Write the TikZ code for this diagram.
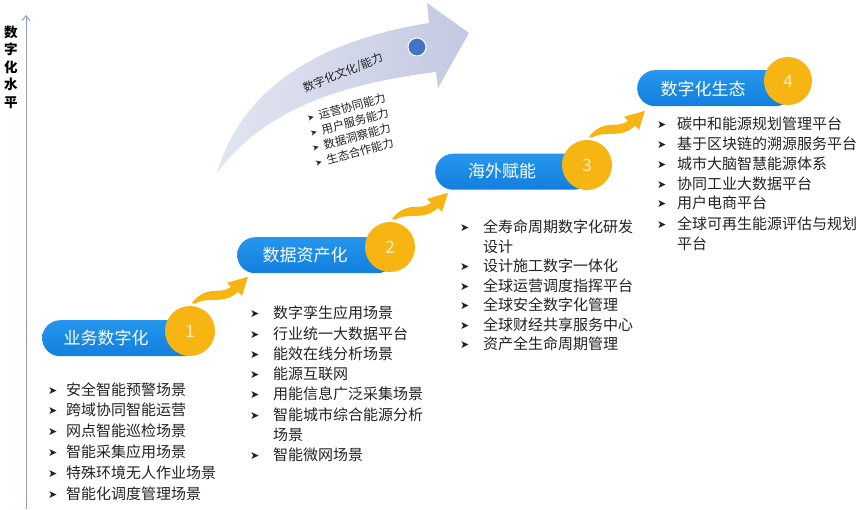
\documentclass[tikz,border=0pt]{standalone}
\usepackage{fontspec}
\setmainfont{Noto Sans CJK SC}
\newfontfamily\dejavu{DejaVu Sans}
\usetikzlibrary{arrows.meta}
\definecolor{pilltop}{HTML}{2696EE}
\definecolor{pillbot}{HTML}{127FDC}
\definecolor{gold}{HTML}{F7B514}
\definecolor{numcol}{HTML}{FFF0C4}
\definecolor{bigA}{HTML}{E2E5F1}
\definecolor{bigB}{HTML}{C3C9E2}
\definecolor{dotblue}{HTML}{4472C4}
\definecolor{axiscol}{HTML}{8D9CC8}
\definecolor{txt}{HTML}{222222}
\newlength\boff
\newcommand\bul{\makebox[\boff][l]{\raisebox{1.0pt}{\dejavu\fontsize{11}{11}\selectfont ➤}}}
\newcommand\smallbul{\makebox[12pt][l]{\raisebox{0.7pt}{\dejavu\fontsize{8.5}{9}\selectfont ➤}}}
\newcommand\nobul{\hspace*{\boff}}
\newcommand\mylist[6]{%
  \setlength\boff{#3pt}%
  \foreach \t [count=\i] in {#6} {\node[item] (#1-\i) at (#2, {#4+#5*(\i-1)}) {\t};}%
}
\tikzset{
  pill/.style={rectangle, rounded corners=18pt, top color=pilltop, bottom color=pillbot, draw=none, minimum height=36pt, inner sep=0, anchor=north west},
  pilltext/.style={text=white, font=\fontsize{17}{17}\selectfont, inner sep=0},
  ycirc/.style={circle, fill=gold, inner sep=0, text=numcol, font=\fontsize{17}{17}\selectfont},
  item/.style={anchor=west, inner sep=0, text=txt, font=\fontsize{15}{18}\selectfont},
  smallitem/.style={anchor=west, inner sep=0, text=txt, rotate=15, font=\fontsize{11.5}{13}\selectfont},
  yarrow/.style={fill=gold},
  wavy/.pic={\fill[yarrow] (0,0) .. controls (6,-8) and (14,-12) .. (24,-12) .. controls (31,-12) and (35,-13) .. (39,-16) -- (35,-20) -- (56,-26) -- (50,-7) -- (46,-11) .. controls (40,-5) and (32,-3) .. (24,-3) .. controls (14,-3) and (7,-2) .. (3,1) -- cycle;},
}
\begin{document}
\begin{tikzpicture}[x=1pt,y=-1pt]
\useasboundingbox (0,0) rectangle (865,509);
% axis
\coordinate (axb) at (26,509);
\coordinate (axt) at (26,15);
\draw[axiscol, line width=0.9pt, -{Straight Barb[length=5pt,width=8pt]}] (axb) -- (axt);
\node[font=\bfseries\fontsize{13.5}{17.5}\selectfont, align=center, inner sep=0, text=black] (ylab) at (11,67) {数\\字\\化\\水\\平};
% big curved arrow
\shade[left color=bigA, right color=bigB] (217,173) .. controls (235,110) and (290,45) .. (429,23) -- (427,3) -- (469,33) -- (438,88) -- (436,72) .. controls (330,85) and (260,115) .. (217,173) -- cycle;
\node[circle, fill=dotblue, draw=white, line width=1pt, minimum size=18pt, inner sep=0] (dot) at (417,47) {};
\node[rotate=22, inner sep=0, text=txt, font=\fontsize{11.5}{13}\selectfont] (atitle) at (343,73) {数字化文化/能力};
\node[smallitem] (s1) at (307,118) {\smallbul 运营协同能力};
\node[smallitem] (s2) at (310,133) {\smallbul 用户服务能力};
\node[smallitem] (s3) at (312,148) {\smallbul 数据洞察能力};
\node[smallitem] (s4) at (315,163) {\smallbul 生态合作能力};
% pills
\node[pill, minimum width=158pt] (p1) at (42,320) {};
\node[pill, minimum width=158pt] (p2) at (237,237) {};
\node[pill, minimum width=157pt] (p3) at (435,153.5) {};
\node[pill, minimum width=156pt] (p4) at (637,70) {};
\node[pilltext] (t1) at (106,338) {业务数字化};
\node[pilltext] (t2) at (305,255) {数据资产化};
\node[pilltext] (t3) at (502,171.5) {海外赋能};
\node[pilltext] (t4) at (703,89) {数字化生态};
\node[ycirc, minimum size=50pt] (c1) at (190,331) {1};
\node[ycirc, minimum size=50pt] (c2) at (390,247) {2};
\node[ycirc, minimum size=50pt] (c3) at (587,165) {3};
\node[ycirc, minimum size=48pt] (c4) at (788,81) {4};
% wavy connectors
\pic at ([shift={(2,-3)}]c1.north) {wavy};
\pic at ([shift={(2,-3)}]c2.north) {wavy};
\pic at ([shift={(2,-3)}]c3.north) {wavy};
% lists
\mylist{a}{48}{18}{389.5}{20.8}{\bul 安全智能预警场景, \bul 跨域协同智能运营, \bul 网点智能巡检场景, \bul 智能采集应用场景, \bul 特殊环境无人作业场景, \bul 智能化调度管理场景}
\mylist{b}{250}{23}{313}{20.3}{\bul 数字孪生应用场景, \bul 行业统一大数据平台, \bul 能效在线分析场景, \bul 能源互联网, \bul 用能信息广泛采集场景, \bul 智能城市综合能源分析, \nobul 场景, \bul 智能微网场景}
\mylist{c}{460}{23}{227}{19.5}{\bul 全寿命周期数字化研发, \nobul 设计, \bul 设计施工数字一体化, \bul 全球运营调度指挥平台, \bul 全球安全数字化管理, \bul 全球财经共享服务中心, \bul 资产全生命周期管理}
\mylist{d}{657}{20}{123.3}{20}{\bul 碳中和能源规划管理平台, \bul 基于区块链的溯源服务平台, \bul 城市大脑智慧能源体系, \bul 协同工业大数据平台, \bul 用户电商平台, \bul 全球可再生能源评估与规划, \nobul 平台}
\end{tikzpicture}
\end{document}
